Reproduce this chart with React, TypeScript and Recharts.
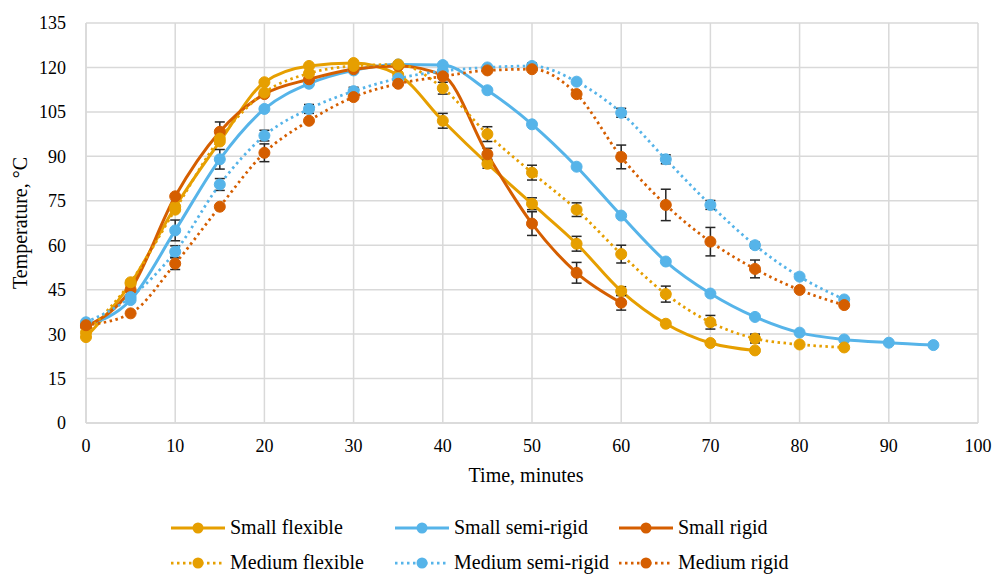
import { LineChart, Line, XAxis, YAxis, CartesianGrid, Legend, ErrorBar } from 'recharts';

// minutes
const times = [0, 5, 10, 15, 20, 25, 30, 35, 40, 45, 50, 55, 60, 65, 70, 75, 80, 85, 90, 95];

// temperature, °C
const smallFlexible = [29, 47, 73, 95, 115, 120.5, 121.5, 117.5, 102, 87.5, 74, 60.5, 44.5, 33.5, 27, 24.5];
const smallSemiRigid = [33, 41.5, 65, 89, 106, 114.5, 119, 121, 120.8, 112.3, 100.8, 86.5, 70, 54.5, 43.7, 35.8, 30.5, 28.2, 27.1, 26.3];
const smallRigid = [32.5, 45, 76.5, 98.3, 111, 116, 119.4, 120.5, 117.3, 90.7, 67.3, 50.7, 40.6];
const mediumFlexible = [30.5, 47.5, 72, 96, 111.5, 118, 120.5, 121, 113, 97.5, 84.5, 72, 57, 43.5, 34, 28.5, 26.5, 25.5];
const mediumSemiRigid = [34, 42.5, 57.8, 80.5, 97, 106, 112, 116.3, 118.8, 120, 120.5, 115.2, 104.7, 89, 73.6, 60, 49.4, 41.7];
const mediumRigid = [33, 37, 53.8, 73, 91.2, 102, 110, 114.5, 117, 119, 119.4, 111, 89.8, 73.6, 61.2, 52, 44.9, 39.8];

// error bar half-lengths (0 = none shown)
const smallFlexibleErr = [0, 0, 0, 0, 0, 0, 0, 0, 2.5, 1.5, 2, 2.5, 1.5, 0, 0, 0];
const smallSemiRigidErr = [0, 0, 3.5, 3.3, 0, 0, 0, 0, 0, 0, 0, 0, 0, 0, 0, 0, 0, 0, 0, 0];
const smallRigidErr = [0, 0, 0, 3.3, 0, 0, 0, 0, 0, 2, 4, 3.5, 2.5];
const mediumFlexibleErr = [0, 0, 0, 0, 0, 0, 0, 0, 2, 2.5, 2.5, 2.3, 3, 2.7, 2.3, 1.5, 0, 0];
const mediumSemiRigidErr = [0, 0, 2, 2, 1.8, 1.5, 1.3, 0, 0, 0, 1, 0, 1.5, 1.5, 1.5, 1, 0, 0];
const mediumRigidErr = [0, 0, 2, 0, 3, 0, 0, 0, 0, 0, 0, 0, 4, 5.3, 4.8, 3, 0, 0];

const xTicks = [0, 10, 20, 30, 40, 50, 60, 70, 80, 90, 100];
const yTicks = [0, 15, 30, 45, 60, 75, 90, 105, 120, 135];

const FONT = '"Liberation Serif", "Times New Roman", serif';

const series = [
  { key: 'smallFlexible', name: 'Small flexible', color: '#E69F00', dotted: false, values: smallFlexible, errors: smallFlexibleErr },
  { key: 'smallSemiRigid', name: 'Small semi-rigid', color: '#56B4E9', dotted: false, values: smallSemiRigid, errors: smallSemiRigidErr },
  { key: 'smallRigid', name: 'Small rigid', color: '#D55E00', dotted: false, values: smallRigid, errors: smallRigidErr },
  { key: 'mediumFlexible', name: 'Medium flexible', color: '#E69F00', dotted: true, values: mediumFlexible, errors: mediumFlexibleErr },
  { key: 'mediumSemiRigid', name: 'Medium semi-rigid', color: '#56B4E9', dotted: true, values: mediumSemiRigid, errors: mediumSemiRigidErr },
  { key: 'mediumRigid', name: 'Medium rigid', color: '#D55E00', dotted: true, values: mediumRigid, errors: mediumRigidErr },
];

const data = times.map((t, i) => {
  const row: Record<string, number | null> = { time: t };
  series.forEach((s) => {
    row[s.key] = s.values[i] ?? null;
    row[s.key + 'Err'] = s.errors[i] ?? 0;
  });
  return row;
});

const DOTS = '2.5 3.5';

function LegendContent() {
  const colLefts = [0, 224, 448];
  return (
    <div style={{ position: 'relative', width: 640, height: 72, fontFamily: FONT, fontSize: 20, color: '#000' }}>
      {series.map((s, i) => {
        const row = Math.floor(i / 3);
        const col = i % 3;
        return (
          <div
            key={s.key}
            style={{
              position: 'absolute',
              left: colLefts[col],
              top: row * 35,
              height: 35,
              display: 'flex',
              alignItems: 'center',
              whiteSpace: 'nowrap',
            }}
          >
            <svg width={54} height={14} style={{ marginRight: 5 }}>
              <line
                x1={0}
                y1={7}
                x2={54}
                y2={7}
                stroke={s.color}
                strokeWidth={s.dotted ? 2.75 : 3}
                strokeDasharray={s.dotted ? DOTS : undefined}
              />
              <circle cx={27} cy={7} r={5.5} fill={s.color} />
            </svg>
            <span>{s.name}</span>
          </div>
        );
      })}
    </div>
  );
}

const tickStyle = { fill: '#000', fontSize: 18, fontFamily: FONT };

export default function App() {
  return (
    <div style={{ position: 'absolute', left: 0, top: 0, width: 995, height: 574, background: '#fff', fontFamily: FONT }}>
      <LineChart
        width={995}
        height={574}
        data={data}
        margin={{ top: 23, right: 17, left: 0, bottom: 91 }}
        style={{ fontFamily: FONT }}
      >
        <CartesianGrid stroke="#d9d9d9" strokeWidth={1.5} />
        <XAxis
          dataKey="time"
          type="number"
          domain={[0, 100]}
          ticks={xTicks}
          height={60}
          tickLine={false}
          tickSize={0}
          tickMargin={16}
          fontFamily={FONT}
          fontSize={18}
          axisLine={{ stroke: '#d9d9d9', strokeWidth: 1.5 }}
          tick={tickStyle}
          label={{
            value: 'Time, minutes',
            position: 'insideTop',
            offset: 45,
            dx: -6,
            style: { fill: '#000', fontSize: 20, fontFamily: FONT },
          }}
        />
        <YAxis
          type="number"
          domain={[0, 135]}
          ticks={yTicks}
          width={86}
          tickLine={false}
          tickSize={0}
          tickMargin={20}
          fontFamily={FONT}
          fontSize={18}
          axisLine={{ stroke: '#d9d9d9', strokeWidth: 1.5 }}
          tick={tickStyle}
          label={{
            value: 'Temperature, °C',
            angle: -90,
            position: 'insideLeft',
            offset: 20,
            style: { fill: '#000', fontSize: 20, fontFamily: FONT, textAnchor: 'middle' },
          }}
        />
        <Legend
          layout="horizontal"
          verticalAlign="middle"
          align="center"
          wrapperStyle={{ top: 510, left: 171, width: 640, height: 72 }}
          content={<LegendContent />}
        />
        {series.map((s) => (
          <Line
            key={s.key}
            dataKey={s.key}
            name={s.name}
            type="monotone"
            stroke={s.color}
            strokeWidth={s.dotted ? 2.75 : 3}
            strokeDasharray={s.dotted ? DOTS : undefined}
            dot={{ r: 5.5, fill: s.color, stroke: s.color, strokeWidth: 1, strokeDasharray: '' }}
            activeDot={false}
            isAnimationActive={false}
          >
            <ErrorBar dataKey={s.key + 'Err'} direction="y" width={5} stroke="#262626" strokeWidth={1.5} />
          </Line>
        ))}
      </LineChart>
    </div>
  );
}
